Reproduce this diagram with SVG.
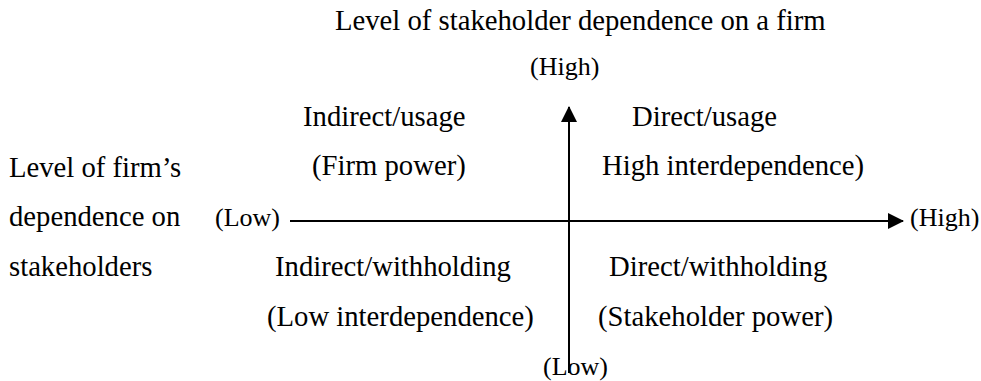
<svg xmlns="http://www.w3.org/2000/svg" width="981" height="381" viewBox="0 0 981 381">
<defs>
<style>
text{font-family:"Liberation Serif","Times New Roman",serif;font-size:28.7px;fill:#000}
text.end{font-size:26px}
.ax{stroke:#000;stroke-width:2;fill:none}
</style>
<marker id="ah" markerWidth="16" markerHeight="16" refX="15" refY="8" orient="auto" markerUnits="userSpaceOnUse" viewBox="0 0 16 16">
<path d="M0,0 L16,8 L0,16 Z" fill="#000"/>
</marker>
</defs>
<rect width="981" height="381" fill="#fff"/>
<g id="connectors">
<line class="ax" x1="569" y1="373" x2="569" y2="107" marker-end="url(#ah)"/>
<line class="ax" x1="290" y1="221" x2="903" y2="221" marker-end="url(#ah)"/>
</g>
<g id="title"><text x="335" y="30">Level of stakeholder dependence on a firm</text></g>
<g id="high-top"><text class="end" x="530" y="75">(High)</text></g>
<g id="low-bottom"><text class="end" x="543" y="375">(Low)</text></g>
<g id="low-left"><text class="end" x="215" y="226">(Low)</text></g>
<g id="high-right"><text class="end" x="910" y="226">(High)</text></g>
<g id="left-label">
<text x="9" y="177">Level of firm’s</text>
<text x="9" y="226">dependence on</text>
<text x="9" y="276">stakeholders</text>
</g>
<g id="q-top-left">
<text x="303" y="126">Indirect/usage</text>
<text x="312" y="175">(Firm power)</text>
</g>
<g id="q-top-right">
<text x="632" y="126">Direct/usage</text>
<text x="602" y="175">High interdependence)</text>
</g>
<g id="q-bottom-left">
<text x="275" y="276">Indirect/withholding</text>
<text x="267" y="326">(Low interdependence)</text>
</g>
<g id="q-bottom-right">
<text x="609" y="276">Direct/withholding</text>
<text x="598" y="326">(Stakeholder power)</text>
</g>
</svg>
